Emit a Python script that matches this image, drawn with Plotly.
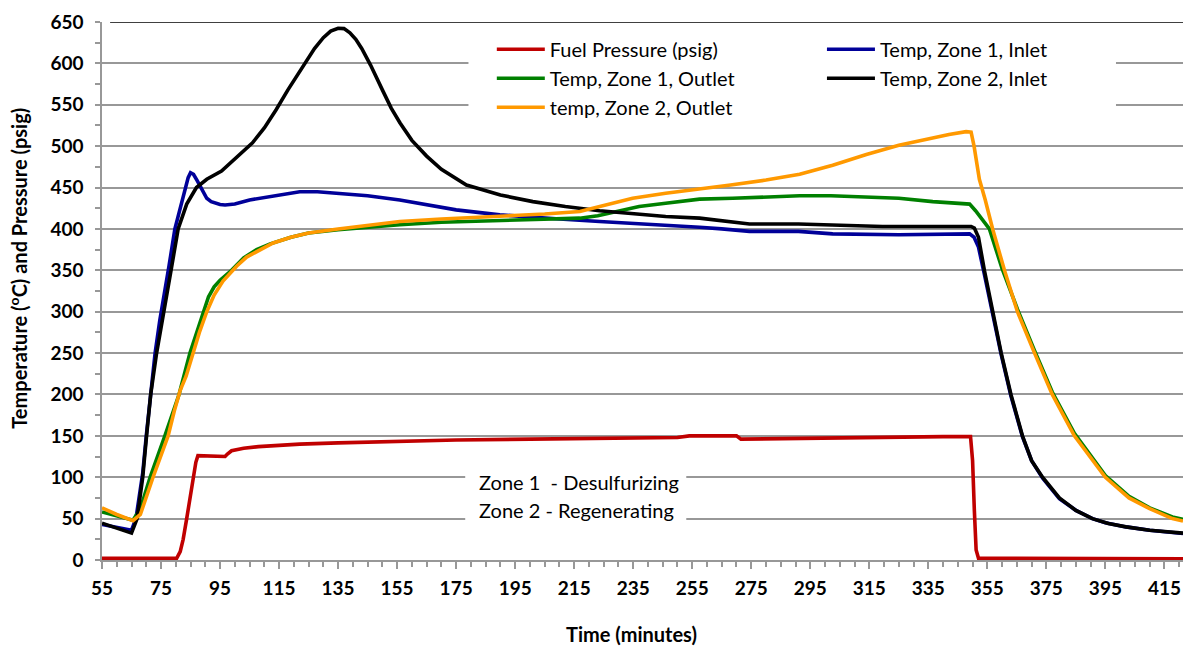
import plotly.graph_objects as go

# ---------------- data ----------------
t_fuel = [55, 70, 80.3, 81.5, 82.5, 83.7, 85, 85.8, 86.8, 87.5, 90, 96.7, 97.5, 98.9, 103, 108,
          115, 122, 135, 150, 175, 200, 225, 250, 254, 270, 271.5, 290, 320, 340, 349.3,
          350, 350.6, 351.2, 352, 360, 421.3]
fuel = [2, 2, 2, 10, 25, 50, 80, 100, 118, 126, 126, 125, 128, 132, 135, 137,
        138.5, 140, 141.5, 143, 145, 146, 147, 148, 150, 150, 146, 147, 149, 149, 149,
        120, 60, 12, 2, 2, 1.5]

t_z1_in = [55, 60, 65, 66.5, 68.8, 70, 71.5, 73, 74.6, 76, 77.7, 79.7, 81.5, 83.1, 84.2, 85,
           86, 87.3, 88.8, 90.5, 92, 93.4, 95, 96.7, 100, 105, 110, 115, 122, 128, 135, 145,
           155.9, 165, 175, 189.8, 200, 210, 223.6, 235, 246, 257.5, 265, 274.4, 291, 302.6,
           325, 340, 349, 350.5, 352, 354, 356.8, 359.7, 363, 366.9, 370, 373.7, 379.4, 385,
           390.6, 395, 402, 410, 421.3]
z1_in = [43, 39, 36, 50, 105, 150, 205, 250, 290, 318, 355, 400, 425, 450, 462, 468,
         466, 458, 448, 437, 433, 431, 429.5, 429, 430, 435, 438, 441, 445, 445, 443, 440,
         435, 429, 423, 417, 414, 412, 409, 407, 405, 402, 400, 397, 397, 394,
         393, 393, 394, 390, 378, 345, 295, 248, 198, 149, 120, 99, 74, 60,
         50, 45, 40, 36, 32]

t_z1_out = [55, 60, 65.5, 68, 71.3, 76.3, 81.1, 84.8, 87, 89.3, 91.1, 93, 95, 98.9, 103, 107.4,
            112, 119, 125, 135, 145, 155.9, 170, 189.8, 205, 216.9, 223, 229, 237, 246, 257.5,
            268.7, 280, 291.4, 302, 314, 325, 336.5, 349, 351, 353, 355.7, 360, 365.2, 371,
            377, 384.5, 395, 403, 410, 417.7, 421.3]
z1_out = [58, 53, 48, 62, 100, 150, 200, 250, 275, 300, 318, 330, 338, 350, 365, 375,
          382, 390, 395, 399, 402, 405, 408, 410, 412, 413, 416, 421, 427, 431, 436,
          437, 439, 440, 440, 438.5, 437, 433, 430, 422, 412, 400, 352, 303, 253,
          203, 153, 102, 77, 63, 52, 49]

t_z2_in = [55, 60, 65, 66.9, 68.8, 70.1, 71.5, 73.5, 75.8, 78.4, 80.8, 83.7, 87, 90.5, 95.5,
           101.7, 106, 110, 114, 118, 121, 124, 127, 130, 132.5, 135, 137, 139, 141, 143,
           146, 150, 153, 156, 160, 165, 170, 178.5, 190, 201, 212, 223.6, 235, 246, 257.5,
           268.7, 274.4, 291, 302.6, 319.5, 335, 349.5, 350.6, 352, 354, 356.8, 359.7, 363,
           366.9, 370, 373.7, 379.4, 385, 390.6, 396, 402, 410, 421.3]
z2_in = [44.5, 38, 32.5, 50, 100, 150, 200, 250, 300, 350, 400, 430, 450, 460, 470,
         490, 504, 522, 544, 568, 585, 603, 618, 631, 639, 642.5, 642, 637, 629, 618,
         598, 568, 546, 528, 507, 488, 472, 453, 441, 433, 427, 422, 418, 415, 413,
         409, 406, 406, 405, 403, 403, 403, 401, 390, 350, 300, 250, 200,
         150, 120, 100, 75, 60, 50, 44, 40, 36, 32.5]

t_z2_out = [55, 60, 65.5, 68, 72.3, 75, 77.4, 79.5, 80.8, 81.5, 83.5, 85.8, 88, 90.5, 93, 96,
            100.6, 104, 108.5, 113, 119, 125, 135, 145, 155.9, 170, 189.8, 205, 216.9, 225,
            234.8, 246, 257.5, 268, 280, 291.4, 302.6, 314, 325, 336, 342, 347.8, 349.5,
            350.5, 352.3, 354.3, 356.8, 360.8, 365.2, 371, 377, 384.5, 395, 403, 410, 417.7,
            421.3]
z2_out = [63, 55, 47.5, 55, 100, 125, 150, 180, 198, 205, 222, 250, 275, 300, 320, 337,
          355, 366, 375, 383, 390, 395, 400, 404, 409, 412, 415, 418, 421, 428,
          437, 443, 448, 453, 459, 466, 477, 490, 501, 510, 514, 517.5, 517,
          500, 460, 435, 400, 350, 300, 250, 200, 150, 100, 75, 62, 50,
          47]

series_names = ["Fuel Pressure (psig)", "Temp, Zone 1, Inlet", "Temp, Zone 1, Outlet",
                "Temp, Zone 2, Inlet", "temp, Zone 2, Outlet"]
x_ticks = list(range(55, 416, 20))
y_ticks = list(range(0, 651, 50))

# ---------------- figure ----------------
FONT = "Lato"
GRID = "#989898"
series = [
    (series_names[0], t_fuel, fuel, "#C00000", "legend"),
    (series_names[1], t_z1_in, z1_in, "#000099", "legend2"),
    (series_names[2], t_z1_out, z1_out, "#008000", "legend"),
    (series_names[3], t_z2_in, z2_in, "#000000", "legend2"),
    (series_names[4], t_z2_out, z2_out, "#FF9900", "legend"),
]

fig = go.Figure()
for name, xs, ys, col, lg in series:
    fig.add_trace(go.Scatter(x=xs, y=ys, mode="lines", name=name,
                             line=dict(color=col, width=3.6), legend=lg,
                             legendgroup=name))

legend_common = dict(
    xanchor="left", yanchor="top", orientation="v",
    bgcolor="rgba(0,0,0,0)", borderwidth=0,
    font=dict(family=FONT, size=20, color="black"),
    itemwidth=48, tracegroupgap=0, traceorder="normal",
)

fig.update_layout(
    width=1183, height=646,
    margin=dict(l=102, r=0, t=22, b=86),
    paper_bgcolor="white", plot_bgcolor="white",
    showlegend=True,
    legend=dict(x=0.3606, y=0.9856, **legend_common),
    legend2=dict(x=0.666, y=0.9856, **legend_common),
    xaxis=dict(
        range=[55, 421.3], tickmode="array", tickvals=x_ticks,
        ticktext=[str(v) for v in x_ticks],
        showgrid=False, zeroline=False,
        showline=True, linecolor=GRID, linewidth=1.5,
        ticks="outside", ticklen=7, tickwidth=1.5, tickcolor=GRID,
        minor=dict(dtick=5, tick0=55, ticks="outside", ticklen=5, tickwidth=1.5,
                   tickcolor=GRID, showgrid=False),
        tickfont=dict(family=FONT, size=19, color="black", weight="bold"),
        ticklabelstandoff=3,
    ),
    yaxis=dict(
        range=[0, 650], tickmode="array", tickvals=y_ticks,
        ticktext=[str(v) for v in y_ticks],
        showgrid=True, gridcolor=GRID, gridwidth=1.5, zeroline=False,
        showline=True, linecolor=GRID, linewidth=1.5,
        ticks="outside", ticklen=5, tickwidth=1.5, tickcolor=GRID,
        minor=dict(dtick=25, tick0=0, ticks="outside", ticklen=5, tickwidth=1.5,
                   tickcolor=GRID, showgrid=False),
        tickfont=dict(family=FONT, size=19, color="black", weight="bold"),
        ticklabelstandoff=8,
    ),
)

# top border
fig.add_shape(type="line", xref="paper", yref="y", x0=0.0075, x1=1, y0=650, y1=650,
              line=dict(color="black", width=1.5), layer="above")

# white background behind legend
fig.add_shape(type="rect", xref="paper", yref="paper", x0=0.339, x1=0.938, y0=0.815, y1=0.979,
              fillcolor="white", line=dict(width=0), layer="above")

# white background behind zone text
fig.add_shape(type="rect", xref="paper", yref="y", x0=0.336, x1=0.5405, y0=42, y1=114,
              fillcolor="white", line=dict(width=0), layer="above")

# zone text
fig.add_annotation(text="Zone 1  - Desulfurizing", xref="paper", yref="y", x=0.347, y=94,
                   xanchor="left", yanchor="middle", showarrow=False, align="left",
                   font=dict(family=FONT, size=20, color="black"))
fig.add_annotation(text="Zone 2 - Regenerating", xref="paper", yref="y", x=0.347, y=60,
                   xanchor="left", yanchor="middle", showarrow=False, align="left",
                   font=dict(family=FONT, size=20, color="black"))

# axis titles
fig.add_annotation(text="Time (minutes)", xref="paper", yref="paper", x=0.4895, y=-0.1367,
                   xanchor="center", yanchor="middle", showarrow=False,
                   font=dict(family=FONT, size=20, color="black", weight="bold"))
fig.add_annotation(text="Temperature (<sup>o</sup>C) and Pressure (psig)", xref="paper", yref="paper",
                   x=-0.0774, y=0.542, xanchor="center", yanchor="middle", textangle=-90,
                   showarrow=False,
                   font=dict(family=FONT, size=20, color="black", weight="bold"))

fig.write_html("out.html")
